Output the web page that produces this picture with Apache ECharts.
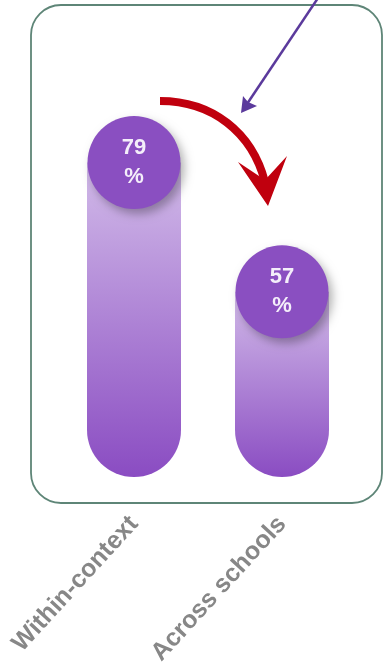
<!DOCTYPE html>
<html>
<head>
<meta charset="utf-8">
<script src="https://cdn.jsdelivr.net/npm/echarts@6/dist/echarts.min.js"></script>
<style>
html,body{margin:0;padding:0;background:#fff;}
#chart{width:383px;height:668px;}
</style>
</head>
<body>
<div id="chart"></div>
<script>
var categories = ['Within-context', 'Across schools'];
var values = [79, 57];

var chart = echarts.init(document.getElementById('chart'), null, {renderer: 'canvas'});

var barGradient = {
  type: 'linear', x: 0, y: 0, x2: 0, y2: 1,
  colorStops: [
    {offset: 0, color: '#d2bbe9'},
    {offset: 1, color: '#8a4cc2'}
  ]
};

var option = {
  animation: false,
  backgroundColor: '#ffffff',
  grid: {left: 60, right: 27, top: 39, bottom: 189, containLabel: false},
  xAxis: {
    type: 'category',
    data: categories,
    axisLine: {show: false},
    axisTick: {show: false},
    splitLine: {show: false},
    axisLabel: {
      rotate: 47.5,
      margin: 43,
      color: '#878787',
      fontWeight: 'bold',
      fontSize: 25,
      fontFamily: 'Liberation Sans, Arial, sans-serif',
      interval: 0
    }
  },
  yAxis: {
    type: 'value',
    min: 25.5,
    max: 100,
    show: false
  },
  series: [
    {
      type: 'bar',
      data: values,
      barWidth: 94,
      itemStyle: {
        color: barGradient,
        borderRadius: [0, 0, 47, 47]
      },
      z: 1
    },
    {
      type: 'scatter',
      data: values,
      symbol: 'circle',
      symbolSize: 93,
      itemStyle: {
        color: '#8a4fc1',
        opacity: 1,
        shadowBlur: 10,
        shadowColor: 'rgba(0,0,0,0.3)',
        shadowOffsetX: 4,
        shadowOffsetY: 5
      },
      label: {
        show: true,
        position: 'inside',
        formatter: function (p) { return p.value + '\n%'; },
        color: '#f4eefa',
        fontWeight: 'bold',
        fontSize: 22,
        lineHeight: 29,
        fontFamily: 'Liberation Sans, Arial, sans-serif'
      },
      z: 3
    }
  ],
  graphic: [
    {
      type: 'rect',
      shape: {x: 31, y: 5, width: 351, height: 498, r: 30},
      style: {fill: 'none', stroke: '#5e8577', lineWidth: 1.8},
      z: 0
    },
    {
      type: 'bezierCurve',
      shape: {x1: 160, y1: 101, cpx1: 212, cpy1: 101, cpx2: 252, cpy2: 132, x2: 265, y2: 182},
      style: {fill: 'none', stroke: '#c0000e', lineWidth: 8},
      z: 5
    },
    {
      type: 'polygon',
      shape: {points: [[268, 206], [238, 162], [265, 180], [287, 156]]},
      style: {fill: '#c0000e'},
      z: 5
    },
    {
      type: 'line',
      shape: {x1: 318, y1: -2, x2: 247, y2: 104},
      style: {stroke: '#5b3a9c', lineWidth: 2.5},
      z: 5
    },
    {
      type: 'polygon',
      shape: {points: [[241, 113], [243, 96], [248, 102], [257, 106]]},
      style: {fill: '#5b3a9c'},
      z: 5
    }
  ]
};
chart.setOption(option);
</script>
</body>
</html>
